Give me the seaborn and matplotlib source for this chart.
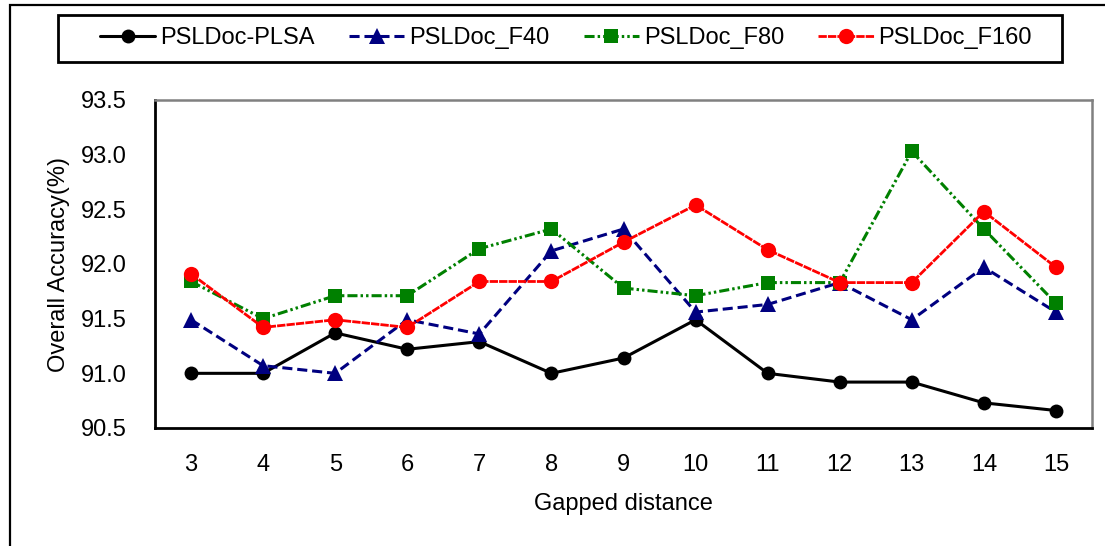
import matplotlib
matplotlib.use("Agg")
import matplotlib.pyplot as plt
from matplotlib.patches import Rectangle
import seaborn as sns
import pandas as pd

gaps = [3, 4, 5, 6, 7, 8, 9, 10, 11, 12, 13, 14, 15]
plsa = [91.00, 91.00, 91.37, 91.22, 91.29, 91.00, 91.14, 91.49, 91.00, 90.92, 90.92, 90.73, 90.66]
f40 = [91.49, 91.07, 91.00, 91.49, 91.36, 92.12, 92.32, 91.56, 91.63, 91.83, 91.49, 91.97, 91.56]
f80 = [91.84, 91.50, 91.71, 91.71, 92.14, 92.32, 91.78, 91.71, 91.83, 91.83, 93.03, 92.32, 91.64]
f160 = [91.91, 91.42, 91.49, 91.42, 91.84, 91.84, 92.20, 92.54, 92.13, 91.83, 91.83, 92.48, 91.97]
series_names = ["PSLDoc-PLSA", "PSLDoc_F40", "PSLDoc_F80", "PSLDoc_F160"]
y_ticks = [90.5, 91.0, 91.5, 92.0, 92.5, 93.0, 93.5]

sns.set_theme(style="white")
plt.rcParams["font.family"] = ["Liberation Sans", "DejaVu Sans"]

fig = plt.figure(figsize=(11.05, 5.46), dpi=100)
ax = fig.add_axes([155/1105, 1-428/546, (1092-155)/1105, (428-100)/546])

styles = [
    dict(color="black", marker="o", markersize=10, linestyle="-", linewidth=2.2),
    dict(color="#000080", marker="^", markersize=11, linestyle=(0, (3.3, 1.6)), linewidth=2.2),
    dict(color="#008000", marker="s", markersize=9.5, linestyle=(0, (3.3, 1.0, 0.8, 1.0, 0.8, 1.0)), linewidth=2.2),
    dict(color="#FF0000", marker="o", markersize=11, linestyle=(0, (3.0, 0.4)), linewidth=2.0),
]
for name, vals, st in zip(series_names, [plsa, f40, f80, f160], styles):
    df = pd.DataFrame({"gap": gaps, "acc": vals})
    sns.lineplot(data=df, x="gap", y="acc", ax=ax, label=name,
                 markeredgecolor=st["color"], markeredgewidth=0, **st)

ax.set_xlim(2.5, 15.5)
ax.set_ylim(90.5, 93.5)
ax.set_xticks(gaps)
ax.set_xticklabels([str(g) for g in gaps])
ax.set_yticks(y_ticks)
ax.set_yticklabels([f"{t:.1f}" for t in y_ticks])
ax.tick_params(axis="both", direction="in", length=6, width=1.6, color="black",
               labelsize=17, labelcolor="black")
ax.tick_params(axis="y", pad=20)
ax.tick_params(axis="x", pad=19)
ax.set_xlabel("Gapped distance", fontsize=17, color="black", labelpad=12)
ax.set_ylabel("Overall Accuracy(%)", fontsize=17, color="black", labelpad=8)
ax.grid(False)
for s in ["left", "bottom"]:
    ax.spines[s].set_color("black")
    ax.spines[s].set_linewidth(2.0)
for s in ["top", "right"]:
    ax.spines[s].set_color("#808080")
    ax.spines[s].set_linewidth(1.8)

ax.get_legend().remove()
handles, labels = ax.get_legend_handles_labels()
leg = fig.legend(handles, labels, loc="center", ncol=4,
                 bbox_to_anchor=(566/1105, 1-38/546),
                 fontsize=17, frameon=False, handlelength=2.35,
                 handletextpad=0.2, columnspacing=1.45, borderaxespad=0, borderpad=0)
for t in leg.get_texts():
    t.set_color("black")

fig.patches.append(Rectangle((58/1105, 1-62/546), 1004/1105, 47/546, transform=fig.transFigure,
                             fill=False, edgecolor="black", linewidth=2.0))
fig.patches.append(Rectangle((10/1105, -0.1), 1.2, 1.1 - 5/546, transform=fig.transFigure,
                             fill=False, edgecolor="black", linewidth=1.6))

fig.savefig("out.png", dpi=100)
